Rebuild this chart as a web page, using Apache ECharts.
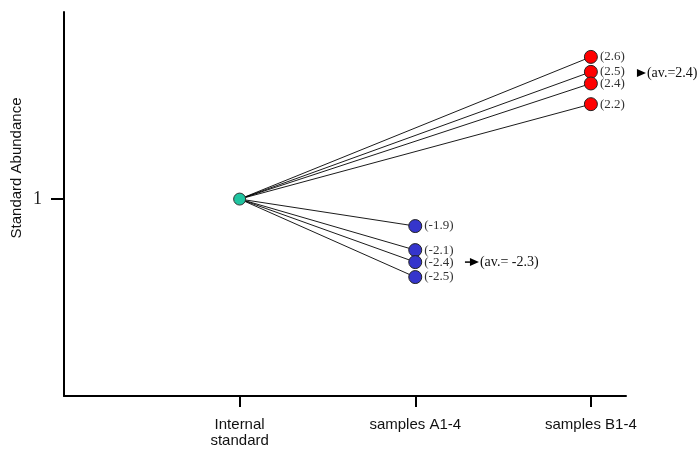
<!DOCTYPE html>
<html><head><meta charset="utf-8">
<script src="https://cdn.jsdelivr.net/npm/echarts@6/dist/echarts.min.js"></script>
<style>html,body{margin:0;padding:0;background:#fff}#c{width:698px;height:449px}</style>
</head><body><div id="c"></div>
<script>
var categories = ['Internal\nstandard', 'samples A1-4', 'samples B1-4'];
var internalValue = 1;
var samplesA = [0.863, 0.741, 0.680, 0.604];
var labelsA = ['(-1.9)', '(-2.1)', '(-2.4)', '(-2.5)'];
var samplesB = [1.722, 1.646, 1.587, 1.482];
var labelsB = ['(2.6)', '(2.5)', '(2.4)', '(2.2)'];
var avgA = {text: '(av.= -2.3)', value: 0.680};
var avgB = {text: '(av.=2.4)', value: 1.640};
var yTickLabels = ['1'];

var serif = '"Liberation Serif","Times New Roman",serif';
var sans = 'Arial, "Liberation Sans", sans-serif';
var series = [];
function addLine(xIdx, v, lab, color) {
  series.push({
    type: 'line', silent: true, z: 2,
    data: [[1, internalValue], [xIdx, v]],
    lineStyle: {color: '#000', width: 0.9},
    symbol: 'none'
  });
  series.push({
    type: 'scatter', silent: true, z: 5,
    data: [[xIdx, v]],
    symbol: 'circle', symbolSize: 13,
    itemStyle: {color: color, borderColor: '#222', borderWidth: 1, opacity: 1},
    label: {show: true, position: 'right', distance: 2, formatter: lab,
      fontFamily: serif, fontSize: 13, color: '#333'}
  });
}
samplesA.forEach(function (v, i) { addLine(2, v, labelsA[i], '#3535cc'); });
samplesB.forEach(function (v, i) { addLine(3, v, labelsB[i], '#ff0000'); });
series.push({
  type: 'scatter', silent: true, z: 6,
  data: [[1, internalValue]], symbol: 'circle', symbolSize: 12,
  itemStyle: {color: '#1fc4a0', borderColor: '#333', borderWidth: 1, opacity: 1}
});
function addAvg(x0, x1, avg) {
  series.push({
    type: 'line', silent: true, z: 4, clip: false,
    showAllSymbol: true,
    data: [
      {value: [x0, avg.value], symbol: 'none'},
      {value: [x1, avg.value], symbol: 'path://M0,0 L10,5 L0,10 Z', symbolSize: [9, 8], symbolKeepAspect: false,
        label: {show: true, position: 'right', distance: 1, formatter: avg.text,
          fontFamily: serif, fontSize: 14, color: '#111'}}
    ],
    lineStyle: {color: '#000', width: 1.5},
    itemStyle: {color: '#000', borderWidth: 0}
  });
}
addAvg(2.283, 2.337, avgA);
addAvg(3.240, 3.288, avgB);

var chart = echarts.init(document.getElementById('c'));
chart.setOption({
  animation: false,
  grid: {left: 64, right: 72, top: 12, bottom: 53, containLabel: false},
  xAxis: {
    type: 'value', min: 0, max: 3.2, splitLine: {show: false},
    axisLine: {show: true, onZero: false, lineStyle: {color: '#000', width: 2}},
    axisTick: {show: true, customValues: [1, 2, 3], length: 11, lineStyle: {color: '#000', width: 2}},
    axisLabel: {show: true, customValues: [1, 2, 3], margin: 21,
      formatter: function (v) { return categories[Math.round(v) - 1] || ''; },
      fontFamily: sans, fontSize: 15, color: '#111', lineHeight: 16}
  },
  yAxis: {
    type: 'value', min: 0, max: 1.95, splitLine: {show: false},
    axisLine: {show: true, onZero: false, lineStyle: {color: '#000', width: 2}},
    axisTick: {show: true, customValues: [1], length: 13, lineStyle: {color: '#000', width: 2}},
    axisLabel: {show: true, customValues: [1], margin: 22,
      formatter: function () { return yTickLabels[0]; },
      fontFamily: serif, fontSize: 18, color: '#222'}
  },
  graphic: [{
    type: 'text', x: 17, y: 168, rotation: Math.PI / 2,
    style: {text: 'Standard Abundance', fontFamily: sans,
      fontSize: 15, fill: '#111', align: 'center', verticalAlign: 'middle'}
  }],
  series: series
});
</script></body></html>
